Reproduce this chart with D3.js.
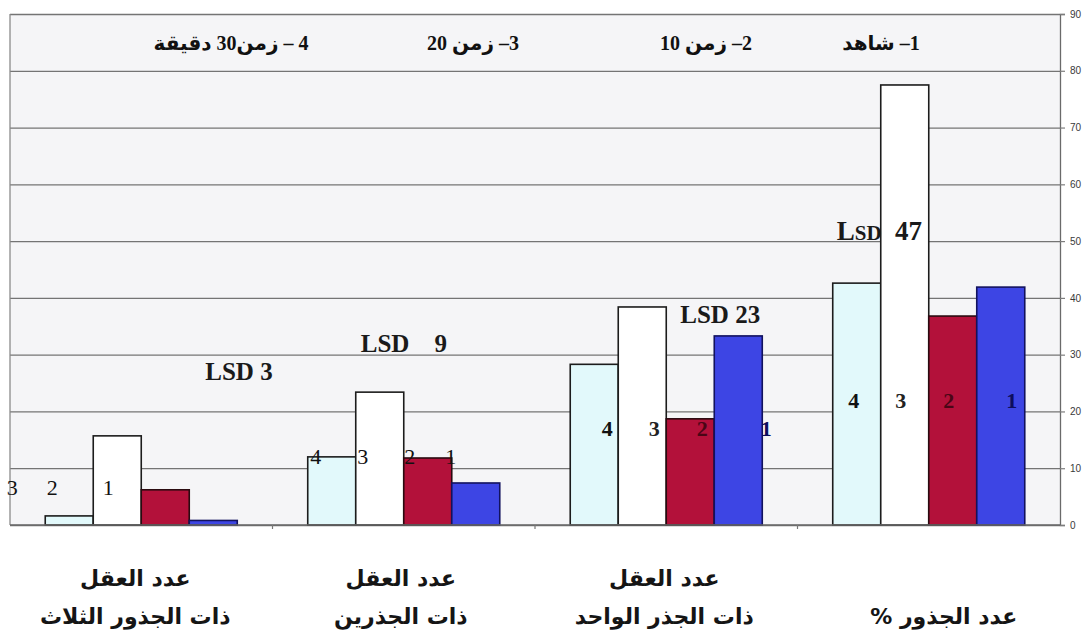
<!DOCTYPE html>
<html>
<head>
<meta charset="utf-8">
<script src="https://cdn.jsdelivr.net/npm/d3@7/dist/d3.min.js"></script>
<style>
  html, body { margin: 0; padding: 0; background: #ffffff; }
  svg { display: block; }
</style>
</head>
<body>
<svg id="chart" width="1091" height="642"></svg>
<script>
// Groups, left to right
const categoryLine1 = ["عدد العقل", "عدد العقل", "عدد العقل", ""];
const categoryLine2 = ["ذات الجذور الثلاث", "ذات الجذرين", "ذات الجذر الواحد", "عدد الجذور %"];

// Treatments, left to right inside each group
const seriesKeys = ["4", "3", "2", "1"];
const seriesNames = ["4 – زمن30 دقيقة", "3– زمن 20", "2– زمن 10", "1– شاهد"];
const seriesColors = ["#e2f9fb", "#ffffff", "#b3113a", "#3d45e4"];
const seriesStroke = ["#1c1c1c", "#1c1c1c", "#2a0a10", "#12125e"];
const seriesInk = ["#111111", "#222222", "#4a0616", "#0e0e5c"];

// Values per group for each treatment
const s4 = [1.6, 12.0, 28.3, 42.6];   // 30 min
const s3 = [15.7, 23.4, 38.4, 77.5];  // 20 min
const s2 = [6.2, 11.8, 18.7, 36.8];   // 10 min
const s1 = [0.8, 7.4, 33.3, 41.9];    // control
const seriesValues = [s4, s3, s2, s1];

const lsdValues = [3, 9, 23, 47];
const yTicks = [0, 10, 20, 30, 40, 50, 60, 70, 80, 90];

// ---- layout ----
const W = 1091, H = 642;
const plot = { left: 10, right: 1060, top: 14, bottom: 525 };
// number labels on the bars: horizontal nudge from bar centre (px) and height (axis units)
const numLabelDx = [[null, -105, -113, -105], [-16, -17, -18, -25], [13, 12, 12, 28], [-3, -4, -4, 11]];
const numLabelAt = [6.7, 12.1, 17.1, 22];
const numLabelWeight = ["normal", "normal", "bold", "bold"];
// LSD notes: offset from group start (px), baseline height (axis units), type sizes
const lsdDx = [160, 53, 110, 4];
const lsdAt = [25.5, 30.4, 35.6, 50.2];
const lsdGap = [" ", "    ", " ", "  "];
const lsdSize = [25, 25, 25, 27];
const lsdSmall = [25, 25, 25, 21];
// legend centres along the top row
const legendX = [231, 473, 706, 881];
// bottom label nudge from group centre
const catDx = [-6, -3, -2, 15];

const svg = d3.select("#chart");
svg.append("rect").attr("width", W).attr("height", H).attr("fill", "#ffffff");

const groups = d3.range(categoryLine2.length);
const x0 = d3.scaleBand().domain(groups).range([plot.left, plot.right]).padding(0);
const x1 = d3.scaleBand().domain(seriesKeys).range([0, x0.bandwidth()])
  .paddingInner(0).paddingOuter(0.734);
const y = d3.scaleLinear().domain([0, 90]).range([plot.bottom, plot.top]);

// plot background
svg.append("rect")
  .attr("x", plot.left).attr("y", plot.top)
  .attr("width", plot.right - plot.left).attr("height", plot.bottom - plot.top)
  .attr("fill", "#f5f5f7");

// horizontal grid lines
const grid = svg.append("g")
  .attr("transform", `translate(${plot.right},0)`)
  .call(d3.axisLeft(y).tickValues(yTicks).tickSize(plot.right - plot.left).tickFormat(""));
grid.select(".domain").remove();
grid.selectAll("line").attr("stroke", "#747474").attr("stroke-width", 1.3);

// left frame line
svg.append("line")
  .attr("x1", plot.left).attr("x2", plot.left)
  .attr("y1", y(90)).attr("y2", y(0))
  .attr("stroke", "#8a8a8a").attr("stroke-width", 1.3);

// bars
const barData = [];
groups.forEach(g => seriesKeys.forEach((k, i) => {
  barData.push({ g, k, i, v: seriesValues[i][g] });
}));

svg.append("g").selectAll("rect")
  .data(barData)
  .join("rect")
  .attr("x", d => x0(d.g) + x1(d.k))
  .attr("y", d => y(d.v))
  .attr("width", x1.bandwidth())
  .attr("height", d => y(0) - y(d.v))
  .attr("fill", d => seriesColors[d.i])
  .attr("stroke", d => seriesStroke[d.i])
  .attr("stroke-width", 1.6);

// baseline and value axis on the right
svg.append("line")
  .attr("x1", plot.left).attr("x2", plot.right)
  .attr("y1", y(0)).attr("y2", y(0))
  .attr("stroke", "#6a6a6a").attr("stroke-width", 1.3);

// small marks between groups on the baseline
svg.append("g").selectAll("line")
  .data(d3.range(1, groups.length))
  .join("line")
  .attr("x1", d => x0(d)).attr("x2", d => x0(d))
  .attr("y1", y(0)).attr("y2", y(0) + 4)
  .attr("stroke", "#777").attr("stroke-width", 1.2);

const yAxis = svg.append("g")
  .attr("transform", `translate(${plot.right},0)`)
  .call(d3.axisRight(y).tickValues(yTicks).tickSize(5).tickPadding(5));
yAxis.select(".domain").attr("stroke", "#6a6a6a").attr("stroke-width", 1.3);
yAxis.selectAll(".tick line").attr("stroke", "#7d7d7d").attr("stroke-width", 1.2);
yAxis.selectAll(".tick text")
  .attr("font-family", "Liberation Sans, Arial, sans-serif")
  .attr("font-size", 10).attr("fill", "#3a3a3a");

// treatment numbers on the bars
svg.append("g").selectAll("text")
  .data(barData.filter(d => numLabelDx[d.g][d.i] !== null))
  .join("text")
  .attr("x", d => x0(d.g) + x1(d.k) + x1.bandwidth() / 2 + numLabelDx[d.g][d.i])
  .attr("y", d => y(numLabelAt[d.g]))
  .attr("dy", "0.35em")
  .attr("text-anchor", "middle")
  .attr("font-family", "Liberation Serif, Times New Roman, serif")
  .attr("font-size", 22)
  .attr("font-weight", d => numLabelWeight[d.g])
  .attr("fill", d => d.g < 2 ? "#111" : seriesInk[d.i])
  .text(d => d.k);

// LSD notes
const lsdText = svg.append("g").selectAll("text")
  .data(groups)
  .join("text")
  .attr("x", g => x0(g) + x1(seriesKeys[0]) + lsdDx[g])
  .attr("y", g => y(lsdAt[g]))
  .attr("font-family", "Liberation Serif, Times New Roman, serif")
  .attr("font-size", g => lsdSize[g])
  .attr("font-weight", "bold")
  .attr("fill", "#1a1a1a")
  .attr("xml:space", "preserve")
  .style("white-space", "pre");
lsdText.append("tspan").text("L");
lsdText.append("tspan").attr("font-size", g => lsdSmall[g]).text("SD");
lsdText.append("tspan").text(g => lsdGap[g] + lsdValues[g]);

// legend row
svg.append("g").selectAll("text")
  .data(seriesNames)
  .join("text")
  .attr("x", (d, i) => legendX[i])
  .attr("y", 50)
  .attr("text-anchor", "middle")
  .attr("direction", "rtl")
  .style("direction", "rtl")
  .style("unicode-bidi", "embed")
  .attr("font-family", "Liberation Serif, DejaVu Sans, serif")
  .attr("font-size", 20)
  .attr("font-weight", "bold")
  .attr("fill", "#111")
  .text(d => d);

// group names under the chart
const catG = svg.append("g")
  .attr("font-family", "DejaVu Sans, sans-serif")
  .attr("font-size", 22)
  .attr("font-weight", "bold")
  .attr("fill", "#151515");
[categoryLine1, categoryLine2].forEach((line, li) => {
  catG.append("g").selectAll("text")
    .data(groups.filter(g => line[g] !== ""))
    .join("text")
    .attr("x", g => x0(g) + x0.bandwidth() / 2 + catDx[g])
    .attr("y", li === 0 ? 586 : 624)
    .attr("text-anchor", "middle")
    .attr("direction", "rtl")
    .style("direction", "rtl")
    .style("unicode-bidi", "embed")
    .text(g => line[g]);
});
</script>
</body>
</html>
